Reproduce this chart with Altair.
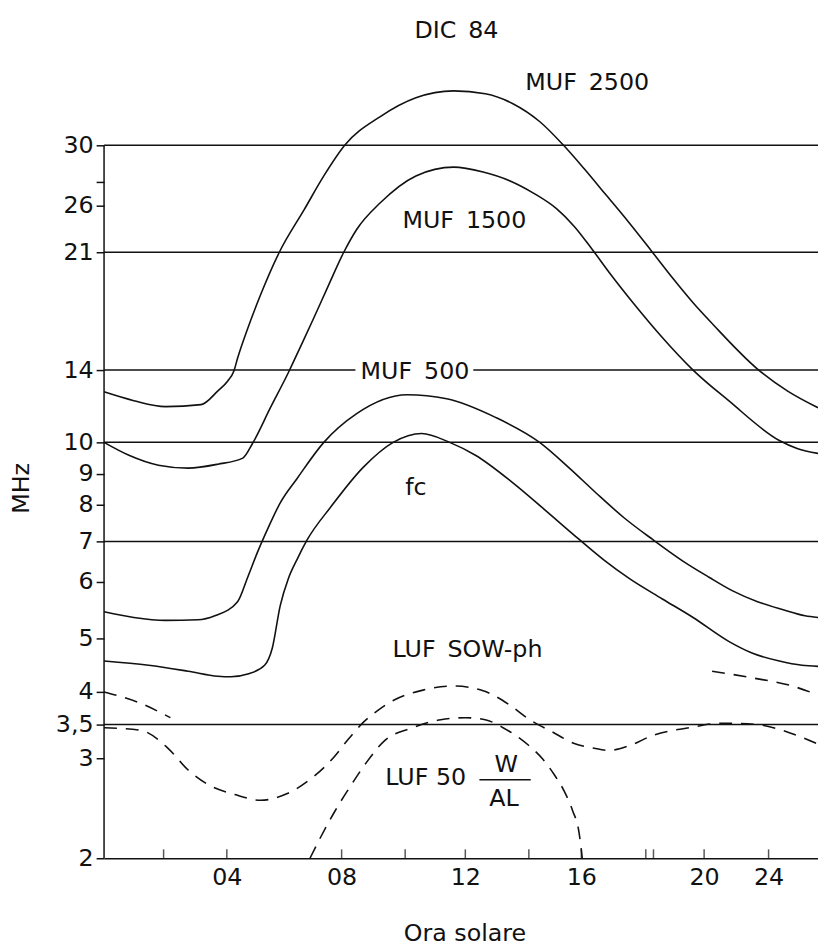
import altair as alt
import pandas as pd

FONT = "DejaVu Sans"

# ---- hand-drawn (non-uniform) MHz axis: tick values and labels ----
Y_TICKS = [2, 3, 3.5, 4, 5, 6, 7, 8, 9, 10, 14, 21, 26, 27.5, 30]
Y_LABELS = ["2", "3", "3,5", "4", "5", "6", "7", "8", "9", "10", "14", "21", "26", "", "30"]

# ---- hour axis ----
X_TICK_POS = [4.0, 7.74, 11.77, 15.55, 19.55, 21.65]
X_TICK_LABELS = ["04", "08", "12", "16", "20", "24"]
X_MINOR = [1.94, 9.81, 13.84, 17.65, 17.9]

# ---- reference frequencies (horizontal lines) ----
H_LEVEL = [30, 21, 14, 14, 10, 7, 3.5]
H_START = [0, 0, 0, 12.03, 0, 0, 0]
H_END = [23.26, 23.26, 8.19, 23.26, 23.26, 23.26, 23.26]

# ---- solid curves ----
MUF2500_h = [0, 0.97, 2.0, 3.16, 3.71, 4.03, 4.23, 4.35, 4.68, 5.10, 5.71, 6.52, 7.16, 7.84, 9.0, 10.16,
             11.39, 12.42, 13.32, 14.19, 14.94, 15.65, 16.35, 17.10, 17.84, 18.55, 19.19, 19.84, 21.29,
             22.26, 23.26]
MUF2500_v = [12.65, 12.14, 11.81, 11.92, 12.71, 13.31, 13.94, 14.58, 16.15, 18.14, 21.0, 25.53, 27.9, 30.0,
             33.02, 35.16, 35.98, 35.63, 34.47, 32.48, 30.10, 28.36, 26.68, 24.07, 21.10, 19.15, 17.65,
             16.38, 14.05, 12.71, 11.75]

MUF1500_h = [0, 0.81, 1.77, 2.74, 3.71, 4.52, 4.84, 5.42, 6.03, 6.39, 6.81, 7.29, 7.81, 8.23, 9.0, 10.16,
             11.39, 12.35, 13.23, 14.03, 14.74, 15.32, 15.90, 16.52, 17.26, 18.13, 19.19, 20.35, 22.0,
             22.58, 23.26]
MUF1500_v = [10.0, 9.58, 9.27, 9.18, 9.30, 9.49, 9.97, 11.75, 13.94, 15.14, 16.66, 18.64, 21.0, 23.31,
             26.18, 27.9, 28.49, 28.16, 27.57, 26.74, 25.65, 23.64, 21.29, 19.42, 17.59, 15.77, 14.0,
             12.14, 10.09, 9.80, 9.64]

MUF500_h = [0, 0.97, 2.0, 3.06, 3.61, 4.35, 4.68, 5.0, 5.35, 5.74, 6.29, 7.16, 8.23, 9.87, 11.16,
            12.77, 14.19, 15.16, 16.03, 16.94, 17.87, 18.87, 19.71, 20.48, 21.29, 22.1, 22.84, 23.26]
MUF500_v = [5.45, 5.35, 5.30, 5.31, 5.38, 5.63, 6.11, 6.72, 7.36, 8.06, 8.85, 10.0, 11.43, 12.48, 12.25,
            11.22, 10.0, 9.18, 8.37, 7.63, 7.05, 6.49, 6.11, 5.83, 5.63, 5.49, 5.38, 5.35]

FC_h = [0, 1.45, 2.74, 3.71, 4.13, 4.68, 5.23, 5.48, 5.74, 6.0, 6.29, 6.61, 7.39, 8.45, 9.42, 10.35,
        11.26, 12.1, 13.32, 14.35, 15.48, 16.29, 17.13, 18.19, 19.19, 20.35, 21.13, 22.0, 22.74, 23.26]
FC_v = [4.55, 4.47, 4.36, 4.27, 4.26, 4.31, 4.47, 4.80, 5.56, 6.07, 6.54, 7.03, 7.94, 9.21, 10.0, 10.42,
        10.0, 9.58, 8.70, 7.86, 7.05, 6.52, 6.07, 5.68, 5.35, 4.94, 4.70, 4.55, 4.47, 4.45]

# ---- dashed curves ----
SOW_h = [0, 1.19, 2.06, 2.74, 3.42, 4.26, 5.1, 5.97, 6.81, 7.48, 7.97, 8.42, 8.9, 9.45, 10.39, 11.39,
         12.35, 13.19, 13.87, 14.58, 15.32, 15.97, 16.45, 17.13, 17.87, 19.06, 20.16, 21.29, 22.1,
         22.74, 23.26]
SOW_v = [3.45, 3.41, 3.15, 2.86, 2.69, 2.59, 2.53, 2.60, 2.78, 3.01, 3.28, 3.52, 3.70, 3.87, 4.03, 4.10,
         4.02, 3.80, 3.57, 3.39, 3.21, 3.14, 3.11, 3.18, 3.33, 3.45, 3.52, 3.5, 3.41, 3.30, 3.20]

L50_h = [6.71, 7.06, 7.52, 8.03, 8.55, 9.16, 10.0, 10.97, 11.77, 12.42, 13.0, 13.84, 14.29, 14.68,
         15.0, 15.26, 15.48, 15.58]
L50_v = [2.0, 2.18, 2.42, 2.68, 2.95, 3.26, 3.44, 3.57, 3.60, 3.57, 3.45, 3.18, 2.99, 2.80,
         2.62, 2.43, 2.21, 2.0]

NIGHT1_h = [0, 1.13, 2.16]
NIGHT1_v = [4.0, 3.83, 3.60]
NIGHT2_h = [19.81, 21.13, 22.42, 23.26]
NIGHT2_v = [4.36, 4.24, 4.10, 3.95]

# ---- labels ----
LBL_TEXT = ["DIC\u200284", "MUF\u20022500", "MUF\u20021500", "MUF\u2002500", "fc",
            "LUF\u2002SOW-ph", "LUF 50", "W", "AL"]
LBL_H = [11.48, 15.74, 11.74, 10.13, 10.16, 11.84, 10.48, 13.10, 13.03]
LBL_V = [44.0, 36.95, 24.18, 13.87, 8.53, 4.76, 2.77, 2.92, 2.54]
FRAC_H = [12.23]
FRAC_H2 = [13.90]
FRAC_V = [2.75]

# ---------------- build tables ----------------
def series(name, hs, vs):
    return pd.DataFrame({"s": name, "h": hs, "v": vs})

solid = pd.concat([
    series("MUF 2500", MUF2500_h, MUF2500_v),
    series("MUF 1500", MUF1500_h, MUF1500_v),
    series("MUF 500", MUF500_h, MUF500_v),
    series("fc", FC_h, FC_v),
])
dashed = pd.concat([
    series("LUF SOW-ph", SOW_h, SOW_v),
    series("LUF 50 W/AL", L50_h, L50_v),
    series("notte a", NIGHT1_h, NIGHT1_v),
    series("notte b", NIGHT2_h, NIGHT2_v),
])
hlines = pd.DataFrame({"v": H_LEVEL, "h": H_START, "h2": H_END})
yline = pd.DataFrame({"h": [0], "v": [2], "v2": [30]})
ticks = pd.DataFrame({"h": X_TICK_POS + X_MINOR, "v": [2] * (len(X_TICK_POS) + len(X_MINOR))})
labels = pd.DataFrame({"t": LBL_TEXT, "h": LBL_H, "v": LBL_V})
frac = pd.DataFrame({"h": FRAC_H, "h2": FRAC_H2, "v": FRAC_V})

# ---------------- scales & axes ----------------
Y_ANCHORS = [2, 3, 3.5, 4, 5, 6, 7, 8, 9, 10, 14, 21, 26, 30, 40, 50]
Y_RANGE = [854, 753, 719, 686, 632, 575, 534, 497, 466, 434, 361, 242, 195, 134, 47, -20.5]

xs = alt.Scale(domain=[0, 23.26], nice=False, zero=False)
ys = alt.Scale(type="log", domain=Y_ANCHORS, range=Y_RANGE, nice=False)

def chain(vals, labs, default):
    expr = default
    for v, l in reversed(list(zip(vals, labs))):
        expr = f"datum.value == {v} ? '{l}' : ({expr})"
    return expr

x_axis = alt.Axis(
    values=X_TICK_POS, labelExpr=chain(X_TICK_POS, X_TICK_LABELS, "''"),
    title="Ora solare", ticks=False, grid=False, domain=True,
    domainColor="#111", domainWidth=1.5,
    labelFont=FONT, labelFontSize=24, labelColor="#111", labelPadding=8,
    labelOverlap=False, labelFlush=False,
    titleFont=FONT, titleFontSize=24, titleFontWeight="normal", titleColor="#111",
    titleX=364, titleY=76, titleAlign="center", titleBaseline="middle",
)
y_axis = alt.Axis(
    values=Y_TICKS, labelExpr=chain(Y_TICKS, Y_LABELS, "''"),
    title="MHz", domain=False, ticks=True, tickSize=8, tickWidth=1.5, tickColor="#111",
    grid=False, labelFont=FONT, labelFontSize=24, labelColor="#111", labelPadding=3,
    labelOverlap=False, labelFlush=False,
    titleFont=FONT, titleFontSize=24, titleFontWeight="normal", titleColor="#111",
    titleX=-83, titleY=480, titleAngle=-90, titleAlign="center", titleBaseline="middle",
)

def X(f="h"):
    return alt.X(f"{f}:Q", scale=xs, axis=x_axis)

def Y(f="v"):
    return alt.Y(f"{f}:Q", scale=ys, axis=y_axis)

INK = "#111"

rules = alt.Chart(hlines).mark_rule(color=INK, strokeWidth=1.5).encode(
    x=X(), x2="h2:Q", y=Y())
axis_line = alt.Chart(yline).mark_rule(color=INK, strokeWidth=1.5).encode(
    x=X(), y=Y(), y2="v2:Q")
solid_lines = alt.Chart(solid).mark_line(color=INK, strokeWidth=1.6, interpolate="monotone").encode(
    x=X(), y=Y(), detail="s:N")
dashed_lines = alt.Chart(dashed).mark_line(color=INK, strokeWidth=1.6, interpolate="monotone",
                                           strokeDash=[13, 9]).encode(
    x=X(), y=Y(), detail="s:N")
xticks = alt.Chart(ticks).mark_tick(color=INK, orient="vertical", size=9, thickness=1.5,
                                    yOffset=-4.5).encode(x=X(), y=Y())
texts = alt.Chart(labels).mark_text(font=FONT, fontSize=24, color=INK, align="center",
                                    baseline="middle").encode(x=X(), y=Y(), text="t:N")
frac_bar = alt.Chart(frac).mark_rule(color=INK, strokeWidth=1.5).encode(
    x=X(), x2="h2:Q", y=Y())

chart = alt.layer(rules, axis_line, solid_lines, dashed_lines, xticks, frac_bar, texts).properties(
    width=721, height=854,
    autosize=alt.AutoSizeParams(type="none"),
    padding={"left": 97, "top": 0, "right": 0, "bottom": 88},
    background="white",
).configure_view(stroke="transparent")

chart.save("out.html", embed_options={"renderer": "svg", "actions": False})
